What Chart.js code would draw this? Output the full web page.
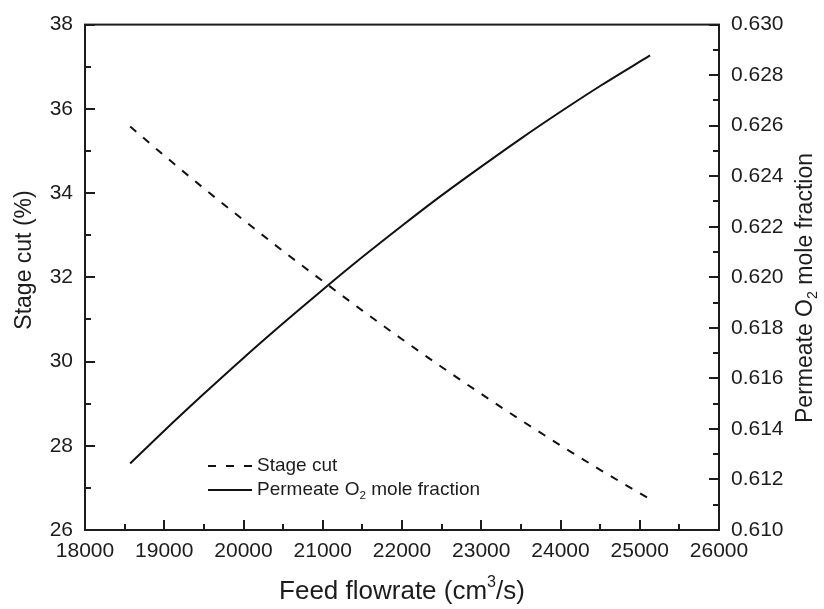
<!DOCTYPE html>
<html>
<head>
<meta charset="utf-8">
<script src="https://cdn.jsdelivr.net/npm/chart.js@4.4.1/dist/chart.umd.min.js"></script>
<style>
  html, body { margin: 0; padding: 0; background: #fff; }
  #wrap { width: 824px; height: 609px; }
</style>
</head>
<body>
<div id="wrap"><canvas id="c" width="824" height="609"></canvas></div>
<script>
// Feed flowrate (cm3/s) at each computed point
const feedFlow = [18570, 19000, 19500, 20000, 20500, 21000, 21500, 22000, 22500, 23000, 23500, 24000, 24500, 25130];
// Stage cut (%) – left axis
const stageCut = [35.58, 34.89, 34.11, 33.36, 32.62, 31.91, 31.21, 30.53, 29.87, 29.23, 28.61, 28.01, 27.43, 26.73];
// Permeate O2 mole fraction – right axis
const permeateO2 = [0.61263, 0.61393, 0.61539, 0.61681, 0.61818, 0.61951, 0.62080, 0.62204, 0.62324, 0.62438, 0.62549, 0.62655, 0.62757, 0.62878];

// Tick values
const feedTicks = [18000, 19000, 20000, 21000, 22000, 23000, 24000, 25000, 26000];
const stageCutTicks = [26, 28, 30, 32, 34, 36, 38];
const o2Ticks = [0.610, 0.612, 0.614, 0.616, 0.618, 0.620, 0.622, 0.624, 0.626, 0.628, 0.630];

const FONT = '"Liberation Sans", Arial, Helvetica, sans-serif';
const INK = '#1c1c1c';

function pts(xs, ys) { return xs.map((x, i) => ({ x: x, y: ys[i] })); }

// Draw a run of text pieces, some of them sub- or superscript
function richWidth(ctx, segs, size) {
  let w = 0;
  for (const s of segs) {
    const sz = (s.sub || s.sup) ? size * 0.62 : size;
    ctx.font = sz + 'px ' + FONT;
    w += ctx.measureText(s.t).width;
  }
  return w;
}
function drawRich(ctx, segs, x, y, size) {
  let cx = x;
  ctx.textBaseline = 'middle';
  ctx.textAlign = 'left';
  for (const s of segs) {
    const sz = (s.sub || s.sup) ? size * 0.62 : size;
    ctx.font = sz + 'px ' + FONT;
    let dy = 0;
    if (s.sub) dy = size * 0.32;
    if (s.sup) dy = -size * 0.36;
    ctx.fillText(s.t, cx, y + dy);
    cx += ctx.measureText(s.t).width;
  }
}

const axisTitles = {
  x: [{ t: 'Feed flowrate (cm' }, { t: '3', sup: true }, { t: '/s)' }],
  left: [{ t: 'Stage cut (%)' }],
  right: [{ t: 'Permeate O' }, { t: '2', sub: true }, { t: ' mole fraction' }]
};

// Box frame with inward major / minor ticks, plus axis titles
const framePlugin = {
  id: 'frame',
  afterDraw(chart) {
    const ctx = chart.ctx;
    const a = chart.chartArea;
    const sx = chart.scales.x, sl = chart.scales.y, sr = chart.scales.y2;
    ctx.save();
    ctx.strokeStyle = INK;
    ctx.lineWidth = 2;
    ctx.setLineDash([]);
    ctx.strokeRect(a.left, a.top, a.right - a.left, a.bottom - a.top);
    const major = 10, minor = 6;
    ctx.beginPath();
    feedTicks.forEach((v, i) => {
      const px = Math.round(sx.getPixelForValue(v));
      ctx.moveTo(px, a.bottom); ctx.lineTo(px, a.bottom - major);
      if (i < feedTicks.length - 1) {
        const m = Math.round(sx.getPixelForValue((v + feedTicks[i + 1]) / 2));
        ctx.moveTo(m, a.bottom); ctx.lineTo(m, a.bottom - minor);
      }
    });
    stageCutTicks.forEach((v, i) => {
      const py = Math.round(sl.getPixelForValue(v));
      ctx.moveTo(a.left, py); ctx.lineTo(a.left + major, py);
      if (i < stageCutTicks.length - 1) {
        const m = Math.round(sl.getPixelForValue((v + stageCutTicks[i + 1]) / 2));
        ctx.moveTo(a.left, m); ctx.lineTo(a.left + minor, m);
      }
    });
    o2Ticks.forEach((v, i) => {
      const py = Math.round(sr.getPixelForValue(v));
      ctx.moveTo(a.right, py); ctx.lineTo(a.right - major, py);
      if (i < o2Ticks.length - 1) {
        const m = Math.round(sr.getPixelForValue((v + o2Ticks[i + 1]) / 2));
        ctx.moveTo(a.right, m); ctx.lineTo(a.right - minor, m);
      }
    });
    ctx.stroke();

    // axis titles
    ctx.fillStyle = INK;
    const cx = (a.left + a.right) / 2;
    const wx = richWidth(ctx, axisTitles.x, 26);
    drawRich(ctx, axisTitles.x, cx - wx / 2, 592, 26);

    const wl = richWidth(ctx, axisTitles.left, 23);
    ctx.save();
    ctx.translate(25, 260);
    ctx.rotate(-Math.PI / 2);
    drawRich(ctx, axisTitles.left, -wl / 2, 0, 23);
    ctx.restore();

    const wr = richWidth(ctx, axisTitles.right, 23);
    ctx.save();
    ctx.translate(806, 288);
    ctx.rotate(-Math.PI / 2);
    drawRich(ctx, axisTitles.right, -wr / 2, 0, 23);
    ctx.restore();
    ctx.restore();
  }
};

// Legend in the lower-left of the plot
const legendPlugin = {
  id: 'innerLegend',
  afterDraw(chart) {
    const ctx = chart.ctx;
    ctx.save();
    chart.data.datasets.forEach((ds, i) => {
      const y = 466 + i * 24;
      ctx.strokeStyle = ds.borderColor;
      ctx.lineWidth = ds.borderWidth;
      ctx.setLineDash(ds.legendDash || []);
      ctx.beginPath();
      ctx.moveTo(208, y); ctx.lineTo(252, y);
      ctx.stroke();
      ctx.setLineDash([]);
      ctx.fillStyle = INK;
      drawRich(ctx, ds.legendText, 257, y, 19);
    });
    ctx.restore();
  }
};

new Chart(document.getElementById('c'), {
  type: 'line',
  data: {
    datasets: [
      {
        label: 'Stage cut',
        legendText: [{ t: 'Stage cut' }],
        data: pts(feedFlow, stageCut),
        yAxisID: 'y',
        borderColor: '#111',
        borderWidth: 2,
        borderDash: [8, 9],
        legendDash: [8, 10],
        pointRadius: 0,
        cubicInterpolationMode: 'monotone',
        fill: false
      },
      {
        label: 'Permeate O2 mole fraction',
        legendText: [{ t: 'Permeate O' }, { t: '2', sub: true }, { t: ' mole fraction' }],
        data: pts(feedFlow, permeateO2),
        yAxisID: 'y2',
        borderColor: '#111',
        borderWidth: 2,
        pointRadius: 0,
        cubicInterpolationMode: 'monotone',
        fill: false
      }
    ]
  },
  options: {
    responsive: false,
    animation: false,
    devicePixelRatio: 1,
    layout: { padding: { top: 20, left: 0, right: 0, bottom: 0 } },
    plugins: { legend: { display: false }, tooltip: { enabled: false } },
    scales: {
      x: {
        type: 'linear',
        min: 18000, max: 26000,
        afterBuildTicks(s) { s.ticks = feedTicks.map(v => ({ value: v })); },
        afterFit(s) { s.height = 79; },
        grid: { display: false, drawTicks: false, tickLength: 0 },
        border: { display: false },
        ticks: {
          color: INK, padding: 9, maxRotation: 0, autoSkip: false,
          font: { family: FONT, size: 21 },
          callback: v => String(v)
        }
      },
      y: {
        type: 'linear', position: 'left',
        min: 26, max: 38,
        afterBuildTicks(s) { s.ticks = stageCutTicks.map(v => ({ value: v })); },
        afterFit(s) { s.width = 85; },
        grid: { display: false, drawTicks: false, tickLength: 0 },
        border: { display: false },
        ticks: {
          color: INK, padding: 12, autoSkip: false,
          font: { family: FONT, size: 21 },
          callback: v => String(v)
        }
      },
      y2: {
        type: 'linear', position: 'right',
        min: 0.610, max: 0.630,
        afterBuildTicks(s) { s.ticks = o2Ticks.map(v => ({ value: v })); },
        afterFit(s) { s.width = 105; },
        grid: { display: false, drawTicks: false, tickLength: 0 },
        border: { display: false },
        ticks: {
          color: INK, padding: 12, autoSkip: false,
          font: { family: FONT, size: 21 },
          callback: v => Number(v).toFixed(3)
        }
      }
    }
  },
  plugins: [framePlugin, legendPlugin]
});
</script>
</body>
</html>
